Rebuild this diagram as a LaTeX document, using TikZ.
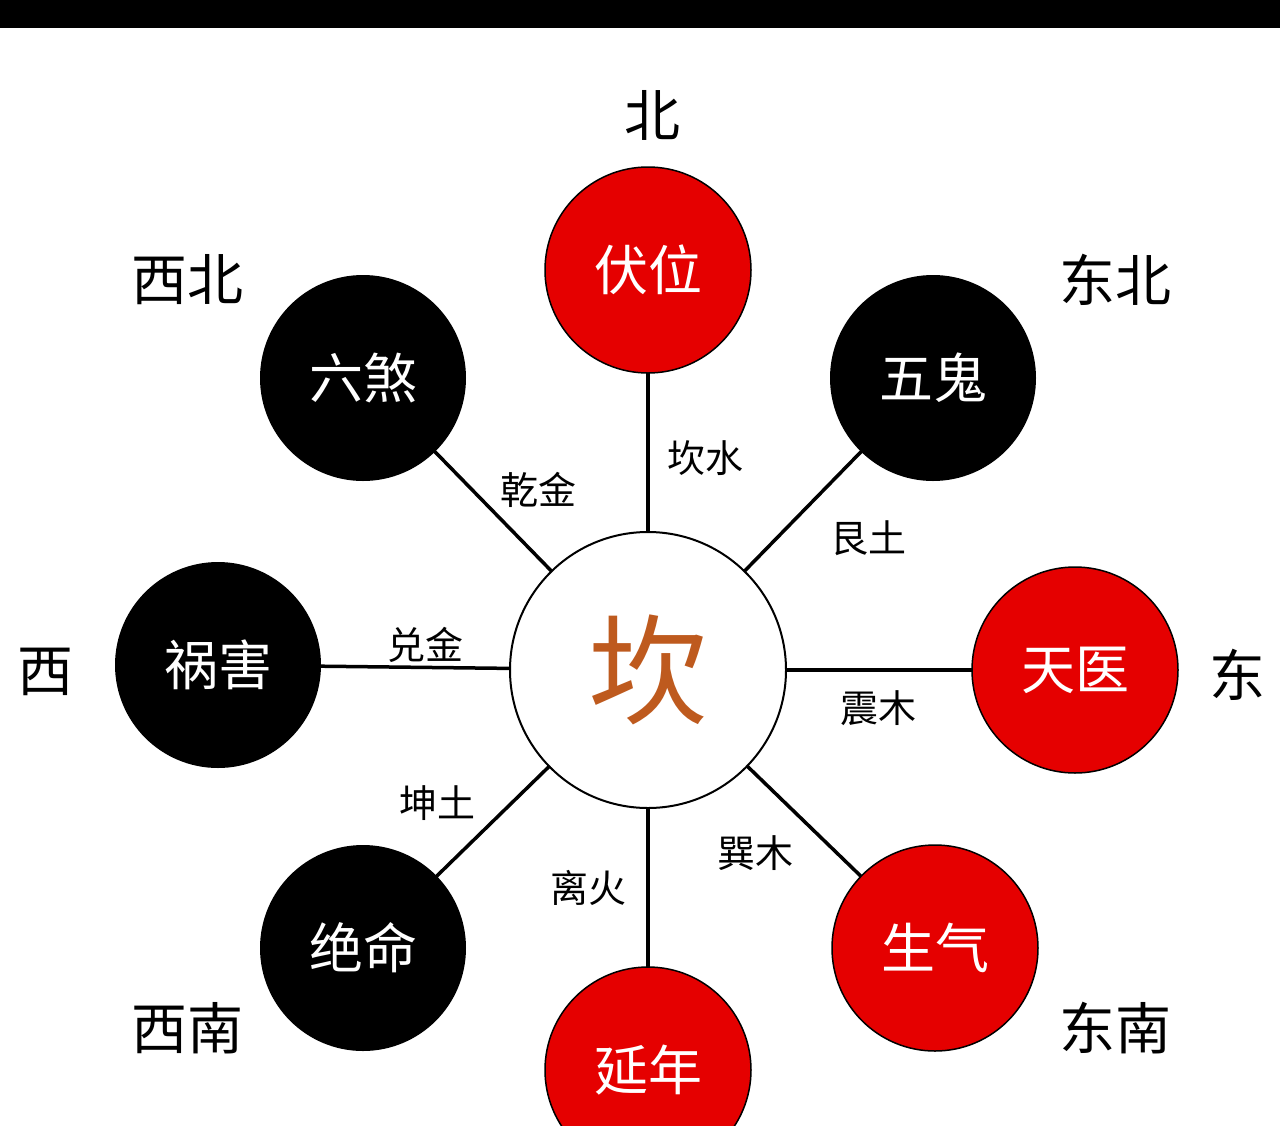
\documentclass[tikz,border=0pt]{standalone}
\usepackage{fontspec}
\newfontfamily\cjk{Noto Sans CJK SC}
\definecolor{kanc}{RGB}{190,90,30}
\begin{document}
\begin{tikzpicture}[x=1pt,y=-1pt,
  outer/.style={circle,minimum size=206pt,inner sep=0pt,text=white,font=\cjk\fontsize{54}{54}\selectfont},
  redc/.style={outer,fill=red!90!black,draw=black,line width=1.5pt},
  blackc/.style={outer,fill=black},
  dir/.style={font=\cjk\fontsize{56}{56}\selectfont},
  elab/.style={font=\cjk\fontsize{38}{38}\selectfont},
  conn/.style={line width=3.5pt}]
\useasboundingbox (0,0) rectangle (1280,1125);
\fill[white] (0,0) rectangle (1280,1125);
\fill[black] (0,0) rectangle (1280,28);
\coordinate (c) at (648,670);
\coordinate (n) at (648,270);
\coordinate (ne) at (933,378);
\coordinate (e) at (1075,670);
\coordinate (se) at (935,948);
\coordinate (s) at (648,1070);
\coordinate (sw) at (363,948);
\coordinate (w) at (218,665);
\coordinate (nw) at (363,378);
\foreach \t in {n,ne,e,se,s,sw,w,nw}{\draw[conn] (c) -- (\t);}
\node[circle,minimum size=276pt,draw=black,line width=2pt,fill=white,inner sep=0pt,text=kanc,font=\cjk\fontsize{120}{120}\selectfont] (cc) at (c) {坎};
\node[redc] (nn) at (n) {伏位};
\node[blackc] (nne) at (ne) {五鬼};
\node[redc] (ne2) at (e) {天医};
\node[redc] (nse) at (se) {生气};
\node[redc] (ns) at (s) {延年};
\node[blackc] (nsw) at (sw) {绝命};
\node[blackc] (nw2) at (w) {祸害};
\node[blackc] (nnw) at (nw) {六煞};
\node[dir] (d1) at (652,115) {北};
\node[dir] (d2) at (1115,280) {东北};
\node[dir] (d3) at (1237,675) {东};
\node[dir] (d4) at (1115,1028) {东南};
\node[dir] (d5) at (187,1028) {西南};
\node[dir] (d6) at (45,672) {西};
\node[dir] (d7) at (187,280) {西北};
\node[elab] (l1) at (705,458) {坎水};
\node[elab] (l2) at (868,538) {艮土};
\node[elab] (l3) at (878,708) {震木};
\node[elab] (l4) at (755,853) {巽木};
\node[elab] (l5) at (588,888) {离火};
\node[elab] (l6) at (437,803) {坤土};
\node[elab] (l7) at (425,645) {兑金};
\node[elab] (l8) at (538,490) {乾金};
\end{tikzpicture}
\end{document}
